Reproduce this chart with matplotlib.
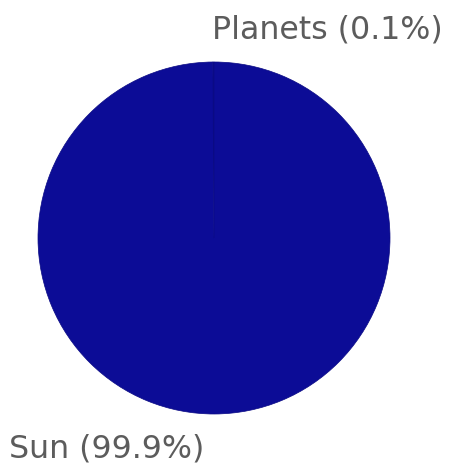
import matplotlib
matplotlib.use("Agg")
import matplotlib.pyplot as plt

# Mass share of the Solar System
labels = ["Planets (0.1%)", "Sun (99.9%)"]
shares = [0.1, 99.9]
colors = ["#0c0c96", "#0c0c96"]

fig = plt.figure(figsize=(4.51, 4.64), dpi=100)
fig.patch.set_facecolor("white")
ax = fig.add_axes([38 / 451, (464 - 415) / 464, 352 / 451, 352 / 464])

wedges, _ = ax.pie(shares, colors=colors, startangle=90, counterclock=True,
                   wedgeprops=dict(edgecolor="#0a0a84", linewidth=0.5))
ax.set_xlim(-1, 1)
ax.set_ylim(-1, 1)
ax.set_aspect("equal")
ax.axis("off")

ax.text(-0.01, 1.142, labels[0], ha="left", va="baseline", fontsize=22.8,
        color="#5c5c5c", clip_on=False)
ax.text(-1.165, -1.239, labels[1], ha="left", va="baseline", fontsize=22.8,
        color="#5c5c5c", clip_on=False)

fig.savefig("out.png", dpi=100, facecolor="white")
